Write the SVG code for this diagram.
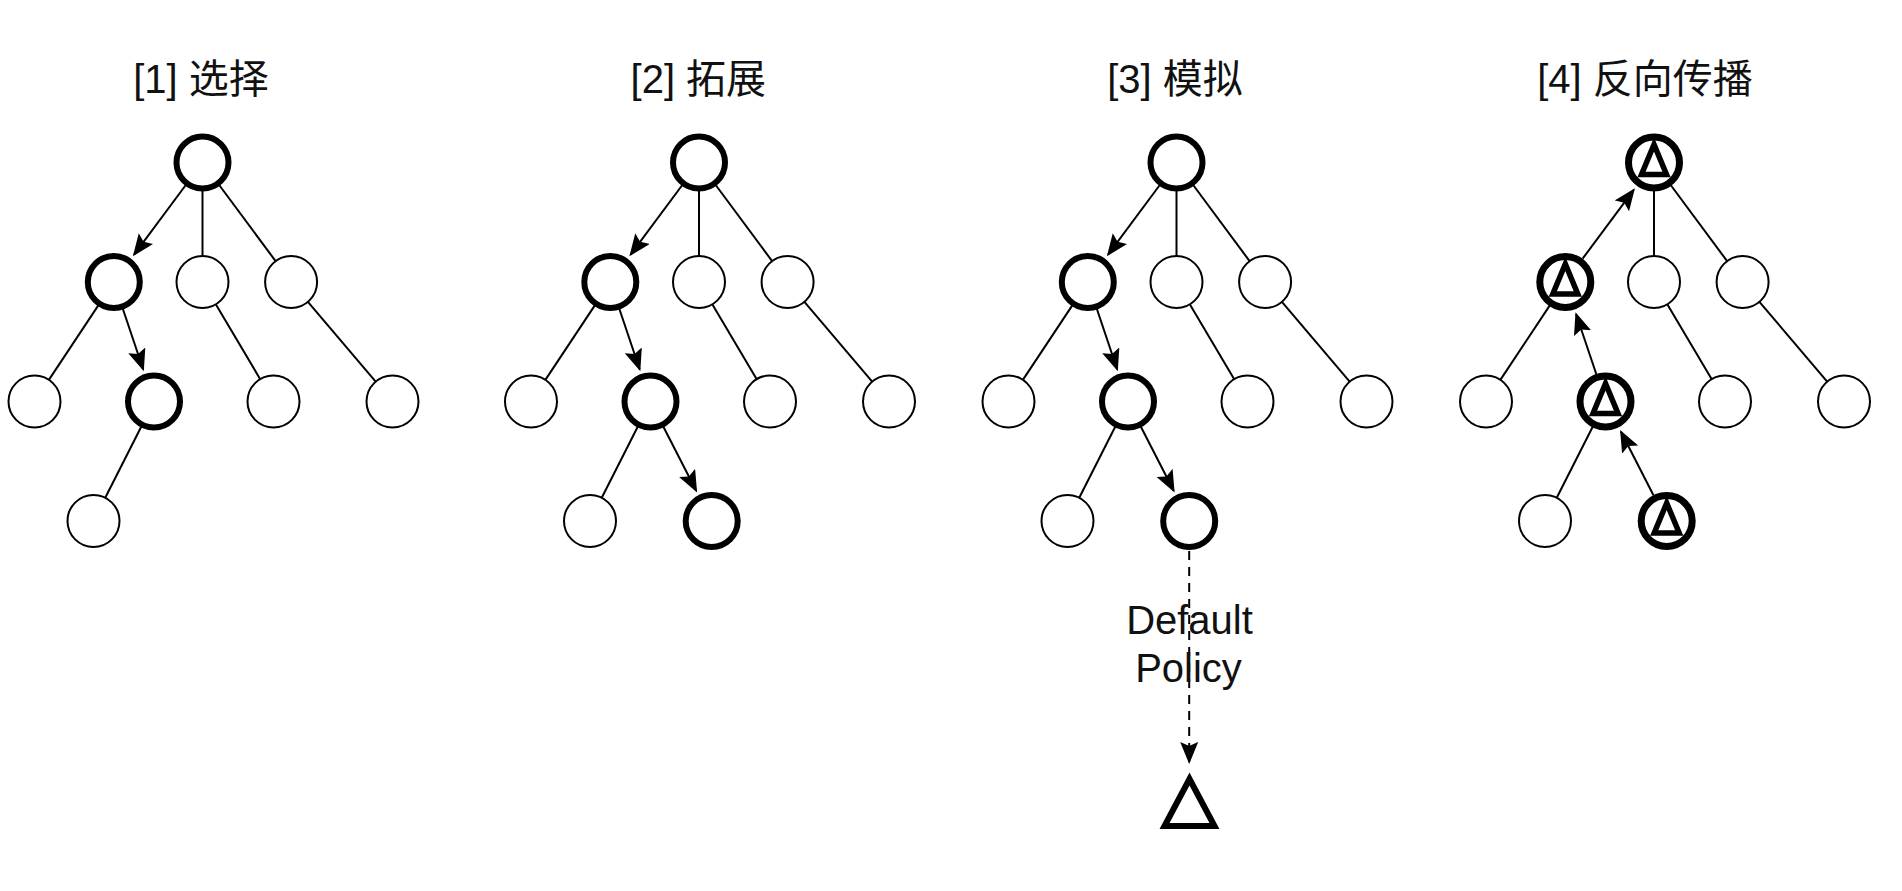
<svg xmlns="http://www.w3.org/2000/svg" width="1902" height="891" viewBox="0 0 1902 891">
<style>
.t{font-family:"Liberation Sans","Noto Sans CJK SC",sans-serif;font-size:40px;fill:#111;text-anchor:middle}
.n{fill:#fff;stroke:#000;stroke-width:2}
.b{fill:#fff;stroke:#000;stroke-width:6}
.bb{fill:#fff;stroke:#000;stroke-width:7}
.e{fill:none;stroke:#000;stroke-width:2}
.a{fill:none;stroke:#000;stroke-width:2;marker-end:url(#arr)}
.d{fill:none;stroke:#000;stroke-width:2;stroke-dasharray:9 7;marker-end:url(#arr)}
.tri{fill:#fff;stroke:#000;stroke-width:6;stroke-linejoin:miter}
.ti{fill:#fff;stroke:#000;stroke-width:5.5;stroke-linejoin:miter}
</style>
<defs>
<marker id="arr" markerUnits="userSpaceOnUse" markerWidth="24" markerHeight="20" refX="20" refY="9" orient="auto" viewBox="0 0 24 20">
<path d="M0,0 L22,9 L0,18 L4,9 Z" fill="#000"/>
</marker>
</defs>
<rect width="1902" height="891" fill="#fff"/>

<!-- Panel 1 -->
<g id="panel1" transform="translate(202.5,0)">
<text class="t" x="-1.5" y="93">[1] 选择</text>
<g id="p1-connectors">
<line class="a" x1="-16.69" y1="184.98" x2="-68.44" y2="254.69"/>
<line class="e" x1="0" y1="190" x2="0" y2="256"/>
<line class="e" x1="16.68" y1="184.99" x2="73.11" y2="261.11"/>
<line class="e" x1="-104.18" y1="305.33" x2="-153.62" y2="379.84"/>
<line class="a" x1="-79.77" y1="308.54" x2="-59.34" y2="369.27"/>
<line class="e" x1="13.28" y1="304.35" x2="57.72" y2="379.15"/>
<line class="e" x1="105.42" y1="301.83" x2="173.18" y2="381.67"/>
<line class="e" x1="-61.15" y1="426.48" x2="-97.26" y2="497.8"/>
</g>
<g id="p1-R"><circle class="b" cx="0" cy="162.5" r="26"/></g>
<g id="p1-A"><circle class="b" cx="-88.7" cy="282" r="26"/></g>
<g id="p1-B"><circle class="n" cx="0" cy="282" r="26"/></g>
<g id="p1-C"><circle class="n" cx="88.6" cy="282" r="26"/></g>
<g id="p1-D"><circle class="n" cx="-168" cy="401.5" r="26"/></g>
<g id="p1-E"><circle class="b" cx="-48.5" cy="401.5" r="26"/></g>
<g id="p1-F"><circle class="n" cx="71" cy="401.5" r="26"/></g>
<g id="p1-G"><circle class="n" cx="190" cy="401.5" r="26"/></g>
<g id="p1-H"><circle class="n" cx="-109" cy="521" r="26"/></g>
</g>

<!-- Panel 2 -->
<g id="panel2" transform="translate(699,0)">
<text class="t" x="-0.7" y="93">[2] 拓展</text>
<g id="p2-connectors">
<line class="a" x1="-16.69" y1="184.98" x2="-68.44" y2="254.69"/>
<line class="e" x1="0" y1="190" x2="0" y2="256"/>
<line class="e" x1="16.68" y1="184.99" x2="73.11" y2="261.11"/>
<line class="e" x1="-104.18" y1="305.33" x2="-153.62" y2="379.84"/>
<line class="a" x1="-79.77" y1="308.54" x2="-59.34" y2="369.27"/>
<line class="e" x1="13.28" y1="304.35" x2="57.72" y2="379.15"/>
<line class="e" x1="105.42" y1="301.83" x2="173.18" y2="381.67"/>
<line class="e" x1="-61.15" y1="426.48" x2="-97.26" y2="497.8"/>
<line class="a" x1="-35.74" y1="426.42" x2="-2.8" y2="490.74"/>
</g>
<g id="p2-R"><circle class="b" cx="0" cy="162.5" r="26"/></g>
<g id="p2-A"><circle class="b" cx="-88.7" cy="282" r="26"/></g>
<g id="p2-B"><circle class="n" cx="0" cy="282" r="26"/></g>
<g id="p2-C"><circle class="n" cx="88.6" cy="282" r="26"/></g>
<g id="p2-D"><circle class="n" cx="-168" cy="401.5" r="26"/></g>
<g id="p2-E"><circle class="b" cx="-48.5" cy="401.5" r="26"/></g>
<g id="p2-F"><circle class="n" cx="71" cy="401.5" r="26"/></g>
<g id="p2-G"><circle class="n" cx="190" cy="401.5" r="26"/></g>
<g id="p2-H"><circle class="n" cx="-109" cy="521" r="26"/></g>
<g id="p2-I"><circle class="b" cx="12.7" cy="521" r="26"/></g>
</g>

<!-- Panel 3 -->
<g id="panel3" transform="translate(1176.5,0)">
<text class="t" x="-1.5" y="93">[3] 模拟</text>
<g id="p3-connectors">
<line class="a" x1="-16.69" y1="184.98" x2="-68.44" y2="254.69"/>
<line class="e" x1="0" y1="190" x2="0" y2="256"/>
<line class="e" x1="16.68" y1="184.99" x2="73.11" y2="261.11"/>
<line class="e" x1="-104.18" y1="305.33" x2="-153.62" y2="379.84"/>
<line class="a" x1="-79.77" y1="308.54" x2="-59.34" y2="369.27"/>
<line class="e" x1="13.28" y1="304.35" x2="57.72" y2="379.15"/>
<line class="e" x1="105.42" y1="301.83" x2="173.18" y2="381.67"/>
<line class="e" x1="-61.15" y1="426.48" x2="-97.26" y2="497.8"/>
<line class="a" x1="-35.74" y1="426.42" x2="-2.8" y2="490.74"/>
<line class="d" x1="12.7" y1="551" x2="12.7" y2="762"/>
<text class="t" x="13" y="634">Default</text>
<text class="t" x="12" y="682">Policy</text>
</g>
<g id="p3-R"><circle class="b" cx="0" cy="162.5" r="26"/></g>
<g id="p3-A"><circle class="b" cx="-88.7" cy="282" r="26"/></g>
<g id="p3-B"><circle class="n" cx="0" cy="282" r="26"/></g>
<g id="p3-C"><circle class="n" cx="88.6" cy="282" r="26"/></g>
<g id="p3-D"><circle class="n" cx="-168" cy="401.5" r="26"/></g>
<g id="p3-E"><circle class="b" cx="-48.5" cy="401.5" r="26"/></g>
<g id="p3-F"><circle class="n" cx="71" cy="401.5" r="26"/></g>
<g id="p3-G"><circle class="n" cx="190" cy="401.5" r="26"/></g>
<g id="p3-H"><circle class="n" cx="-109" cy="521" r="26"/></g>
<g id="p3-I"><circle class="b" cx="12.7" cy="521" r="26"/></g>
<g id="p3-T"><path class="tri" d="M13,779 L-12,826 L38,826 Z"/></g>
</g>

<!-- Panel 4 -->
<g id="panel4" transform="translate(1654,0)">
<text class="t" x="-9" y="93">[4] 反向传播</text>
<g id="p4-connectors">
<line class="a" x1="-71.42" y1="258.71" x2="-20.26" y2="189.81"/>
<line class="e" x1="0" y1="190" x2="0" y2="256"/>
<line class="e" x1="16.68" y1="184.99" x2="73.11" y2="261.11"/>
<line class="e" x1="-104.18" y1="305.33" x2="-153.62" y2="379.84"/>
<line class="a" x1="-57.75" y1="374.01" x2="-77.86" y2="314.23"/>
<line class="e" x1="13.28" y1="304.35" x2="57.72" y2="379.15"/>
<line class="e" x1="105.42" y1="301.83" x2="173.18" y2="381.67"/>
<line class="e" x1="-61.15" y1="426.48" x2="-97.26" y2="497.8"/>
<line class="a" x1="-0.52" y1="495.19" x2="-33.0" y2="431.76"/>
</g>
<g id="p4-R" transform="translate(0,162.5)"><circle class="bb" r="25.5"/><path class="ti" d="M0,-18 L-12.5,12 L12.5,12 Z"/></g>
<g id="p4-A" transform="translate(-88.7,282)"><circle class="bb" r="25.5"/><path class="ti" d="M0,-18 L-12.5,12 L12.5,12 Z"/></g>
<g id="p4-B"><circle class="n" cx="0" cy="282" r="26"/></g>
<g id="p4-C"><circle class="n" cx="88.6" cy="282" r="26"/></g>
<g id="p4-D"><circle class="n" cx="-168" cy="401.5" r="26"/></g>
<g id="p4-E" transform="translate(-48.5,401.5)"><circle class="bb" r="25.5"/><path class="ti" d="M0,-18 L-12.5,12 L12.5,12 Z"/></g>
<g id="p4-F"><circle class="n" cx="71" cy="401.5" r="26"/></g>
<g id="p4-G"><circle class="n" cx="190" cy="401.5" r="26"/></g>
<g id="p4-H"><circle class="n" cx="-109" cy="521" r="26"/></g>
<g id="p4-I" transform="translate(12.7,521)"><circle class="bb" r="25.5"/><path class="ti" d="M0,-18 L-12.5,12 L12.5,12 Z"/></g>
</g>
</svg>
